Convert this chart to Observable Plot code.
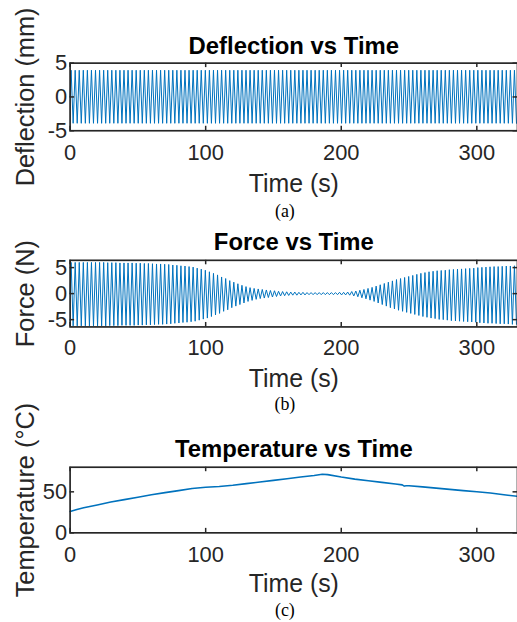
<!DOCTYPE html>
<html><head><meta charset="utf-8">
<script src="https://cdn.jsdelivr.net/npm/d3@7"></script>
<script src="https://cdn.jsdelivr.net/npm/@observablehq/plot@0.6"></script>
<style>
html,body{margin:0;padding:0;background:#fff;overflow:hidden}
#wrap{position:relative;width:517px;height:622px;overflow:hidden;background:#fff}
#wrap svg{position:absolute;left:0}
</style></head><body><div id="wrap"></div>
<script>
// ---- data ----
const timeTicks = [0, 100, 200, 300];
const defTicks = [-5, 0, 5];
const forceTicks = [-5, 0, 5];
const tempTicks = [0, 50];
const halfPeriod = 1.5; // seconds between successive extrema of the oscillations

// Deflection (mm): positive / negative peak of each cycle
const defHigh = [3.95,3.95,3.95,3.95,3.95,3.95,3.95,3.95,3.95,3.95,
  3.95,3.95,3.95,3.95,3.95,3.95,3.95,3.95,3.95,3.95,
  3.95,3.95,3.95,3.95,3.95,3.95,3.95,3.95,3.95,3.95,
  3.95,3.95,3.95,3.95,3.95,3.95,3.95,3.95,3.95,3.95,
  3.95,3.95,3.95,3.95,3.95,3.95,3.95,3.95,3.95,3.95,
  3.95,3.95,3.95,3.95,3.95,3.95,3.95,3.95,3.95,3.95,
  3.95,3.95,3.95,3.95,3.95,3.95,3.95,3.95,3.95,3.95,
  3.95,3.95,3.95,3.95,3.95,3.95,3.95,3.95,3.95,3.95,
  3.95,3.95,3.95,3.95,3.95,3.95,3.95,3.95,3.95,3.95,
  3.95,3.95,3.95,3.95,3.95,3.95,3.95,3.95,3.95,3.95,
  3.95,3.95,3.95,3.95,3.95,3.95,3.95,3.95,3.95,3.95];
const defLow = [-3.9,-3.9,-3.9,-3.9,-3.9,-3.9,-3.9,-3.9,-3.9,-3.9,
  -3.9,-3.9,-3.9,-3.9,-3.9,-3.9,-3.9,-3.9,-3.9,-3.9,
  -3.9,-3.9,-3.9,-3.9,-3.9,-3.9,-3.9,-3.9,-3.9,-3.9,
  -3.9,-3.9,-3.9,-3.9,-3.9,-3.9,-3.9,-3.9,-3.9,-3.9,
  -3.9,-3.9,-3.9,-3.9,-3.9,-3.9,-3.9,-3.9,-3.9,-3.9,
  -3.9,-3.9,-3.9,-3.9,-3.9,-3.9,-3.9,-3.9,-3.9,-3.9,
  -3.9,-3.9,-3.9,-3.9,-3.9,-3.9,-3.9,-3.9,-3.9,-3.9,
  -3.9,-3.9,-3.9,-3.9,-3.9,-3.9,-3.9,-3.9,-3.9,-3.9,
  -3.9,-3.9,-3.9,-3.9,-3.9,-3.9,-3.9,-3.9,-3.9,-3.9,
  -3.9,-3.9,-3.9,-3.9,-3.9,-3.9,-3.9,-3.9,-3.9,-3.9,
  -3.9,-3.9,-3.9,-3.9,-3.9,-3.9,-3.9,-3.9,-3.9,-3.9];

// Force (N): positive / negative peak of each cycle
const forceHigh = [6.0,6.0,6.0,6.0,6.0,6.0,6.0,6.0,6.0,5.95,
  5.95,5.95,5.9,5.9,5.9,5.9,5.85,5.85,5.8,5.8,
  5.75,5.7,5.7,5.65,5.6,5.5,5.45,5.35,5.3,5.2,
  5.1,4.9,4.7,4.5,4.2,3.9,3.6,3.2,2.9,2.5,
  2.2,1.9,1.6,1.35,1.15,1.0,0.9,0.8,0.7,0.6,
  0.55,0.45,0.4,0.35,0.3,0.3,0.25,0.25,0.2,0.2,
  0.2,0.2,0.2,0.2,0.2,0.2,0.25,0.25,0.3,0.4,
  0.5,0.65,0.8,1.0,1.2,1.45,1.7,1.95,2.2,2.45,
  2.7,2.9,3.1,3.3,3.5,3.7,3.9,4.05,4.2,4.3,
  4.4,4.45,4.5,4.6,4.65,4.7,4.75,4.8,4.85,4.9,
  5.0,5.05,5.1,5.15,5.2,5.2,5.25,5.3,5.3,5.35];
const forceLow = [-6.2,-6.2,-6.2,-6.2,-6.2,-6.2,-6.2,-6.2,-6.2,-6.15,
  -6.15,-6.15,-6.1,-6.1,-6.1,-6.1,-6.05,-6.05,-6.0,-6.0,
  -5.95,-5.9,-5.9,-5.85,-5.8,-5.7,-5.65,-5.55,-5.5,-5.4,
  -5.3,-5.1,-4.9,-4.7,-4.4,-4.1,-3.8,-3.4,-3.1,-2.7,
  -2.4,-2.1,-1.8,-1.5,-1.3,-1.1,-0.95,-0.85,-0.75,-0.65,
  -0.55,-0.45,-0.4,-0.35,-0.3,-0.3,-0.25,-0.25,-0.2,-0.2,
  -0.2,-0.2,-0.2,-0.2,-0.2,-0.2,-0.25,-0.25,-0.3,-0.45,
  -0.6,-0.8,-1.0,-1.25,-1.5,-1.8,-2.1,-2.4,-2.7,-2.95,
  -3.2,-3.4,-3.6,-3.8,-4.0,-4.2,-4.4,-4.55,-4.7,-4.8,
  -4.95,-5.0,-5.1,-5.2,-5.25,-5.3,-5.35,-5.4,-5.45,-5.5,
  -5.6,-5.65,-5.7,-5.7,-5.75,-5.8,-5.8,-5.85,-5.9,-5.9];

// Temperature (°C)
const tempTime = [0,5,10,20,30,40,50,60,70,80,90,100,110,120,130,140,150,160,170,180,186,190,200,210,220,230,240,245,246.5,248,250,260,270,280,290,300,310,320,330];
const tempValue = [26,28.5,30.5,34,37.5,40.5,43.5,46.5,49,51.5,54,55.5,56.5,58,60,62,64,66,68,70,71.5,71,68,65.5,63.5,61.5,59.5,58.5,57,57.5,57.5,56,54.5,53,51.5,50,48.5,46.5,44.5];

// ---- build tables ----
function oscillation(high, low) {
  const pts = [{t: 0, v: 0}];
  high.forEach((h, k) => {
    pts.push({t: halfPeriod * (2 * k + 0.5), v: h});
    pts.push({t: halfPeriod * (2 * k + 1.5), v: low[k]});
  });
  return pts;
}
const defData = oscillation(defHigh, defLow);
const forceData = oscillation(forceHigh, forceLow);
const tempData = tempTime.map((t, i) => ({t, v: tempValue[i]}));

const SANS = "'Liberation Sans', Arial, Helvetica, sans-serif";
const SERIF = "'Liberation Serif', 'Times New Roman', serif";
const BLUE = "#0072BD";
const AXIS = "#262626";
const wrap = document.getElementById("wrap");

function panel(o) {
  const W = 520, L = 70, T = 4.5;
  const marginBottom = o.height - o.marginTop - o.frameH;
  const svg = Plot.plot({
    width: W, height: o.height,
    marginLeft: L, marginRight: 0, marginTop: o.marginTop, marginBottom,
    style: {background: "transparent", overflow: "visible", fontFamily: SANS, fontSize: "22px", color: AXIS},
    x: {domain: [0, 330], ticks: timeTicks, tickSize: 0, tickPadding: o.tickPadX, tickFormat: d => String(d), label: null},
    y: {domain: o.yDomain, ticks: o.yTicks, tickSize: 0, tickPadding: 3, tickFormat: d => String(d), label: null},
    marks: [
      Plot.line(o.data, {x: "t", y: "v", stroke: BLUE, strokeWidth: o.sw}),
      Plot.tickX(timeTicks, {x: d => d, insetTop: o.frameH - T, stroke: AXIS, strokeWidth: 1.5}),
      Plot.tickX(timeTicks, {x: d => d, insetBottom: o.frameH - T, stroke: AXIS, strokeWidth: 1.5}),
      Plot.tickY(o.yTicks, {y: d => d, insetRight: W - L - T, stroke: AXIS, strokeWidth: 1.5}),
      Plot.tickY(o.yTicks, {y: d => d, insetLeft: W - L - T, stroke: AXIS, strokeWidth: 1.5}),
      Plot.frame({stroke: AXIS, strokeWidth: 1.7}),
      Plot.text([o.title], {text: d => d, frameAnchor: "top", dy: o.dyTitle, lineAnchor: "bottom", fontWeight: "bold", fontSize: 24, fill: "#000"}),
      Plot.text(["Time (s)"], {text: d => d, frameAnchor: "bottom", dy: o.dyXlabel, lineAnchor: "bottom", fontSize: 25, fill: AXIS}),
      Plot.text([o.ylabel], {text: d => d, frameAnchor: "left", dx: -44, rotate: -90, textAnchor: "middle", lineAnchor: "middle", fontSize: 25.5, fill: AXIS}),
      Plot.text([o.caption], {text: d => d, frameAnchor: "bottom", dx: -9, dy: o.dyCaption, lineAnchor: "bottom", fontFamily: SERIF, fontSize: 18, fill: "#000"})
    ]
  });
  svg.style.top = o.top + "px";
  wrap.appendChild(svg);
}

panel({top: 0, height: 230, marginTop: 63, frameH: 68, yDomain: [-5, 5], yTicks: defTicks, data: defData, sw: 1.0,
  title: "Deflection vs Time", ylabel: "Deflection (mm)", caption: "(a)", tickPadX: 14, dyTitle: -9, dyXlabel: 62, dyCaption: 87});
panel({top: 230, height: 190, marginTop: 30, frameH: 67, yDomain: [-6.4, 6.4], yTicks: forceTicks, data: forceData, sw: 1.0,
  title: "Force vs Time", ylabel: "Force (N)", caption: "(b)", tickPadX: 13, dyTitle: -10, dyXlabel: 60, dyCaption: 84});
panel({top: 420, height: 202, marginTop: 47, frameH: 66, yDomain: [0, 80], yTicks: tempTicks, data: tempData, sw: 1.6,
  title: "Temperature vs Time", ylabel: "Temperature (°C)", caption: "(c)", tickPadX: 14, dyTitle: -10, dyXlabel: 60, dyCaption: 84});
</script></body></html>
